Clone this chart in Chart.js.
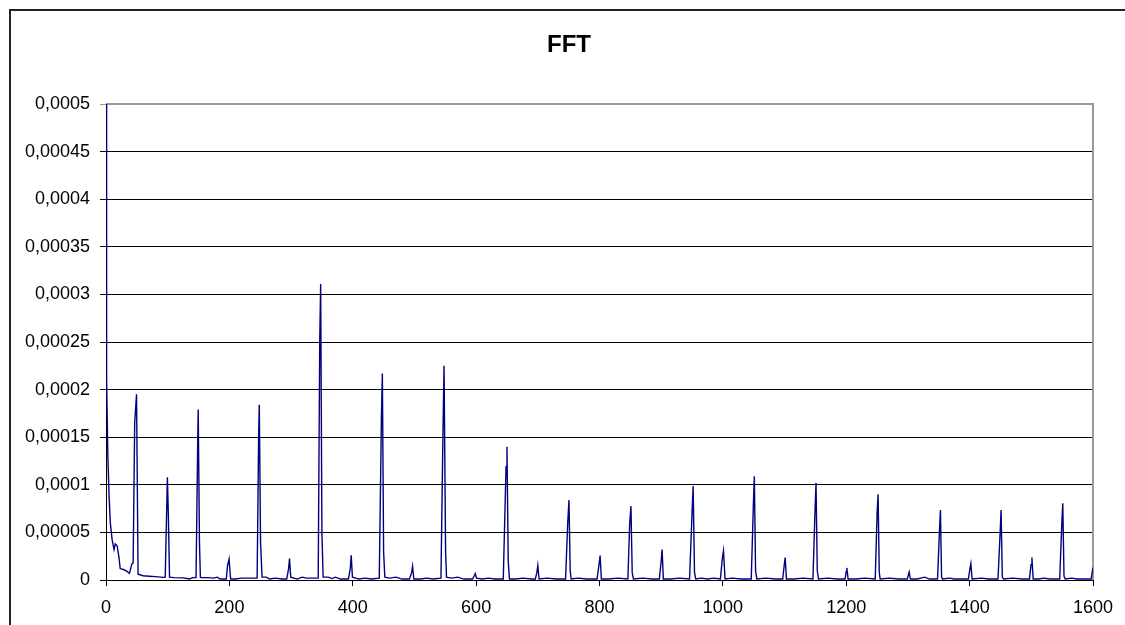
<!DOCTYPE html>
<html>
<head>
<meta charset="utf-8">
<title>FFT</title>
<script src="https://cdn.jsdelivr.net/npm/chart.js@4/dist/chart.umd.min.js"></script>
<style>
  body { margin: 0; background: #fff; }
  #wrap { width: 1125px; height: 625px; }
</style>
</head>
<body>
<div id="wrap"><canvas id="fft" width="1125" height="625"></canvas></div>
<script>
// frequency (Hz) and amplitude
freqs = [0, 1, 3, 5, 7, 10, 13, 15, 18, 21, 23, 28, 33, 38, 42, 44, 46.5, 49.5, 52,
  60, 70, 80, 93, 96, 99.5, 101, 103,
  110, 125, 136, 140, 146, 148.5, 149.5, 151.5, 153,
  165, 175, 180, 185, 195, 197, 199.5, 202,
  210, 220, 230, 245, 247.5, 248.5, 250.5, 253,
  260, 265, 275, 285, 293, 296, 297.5, 299.5,
  310, 318, 325, 340, 344, 346.5, 348, 350, 352,
  360, 366, 372, 380, 393, 396, 397.5, 399.5,
  410, 420, 430, 443, 446.5, 448, 450, 452,
  460, 470, 480, 492, 495.5, 497, 499,
  510, 520, 530, 543, 546.5, 548, 550.5, 552,
  560, 570, 580, 594, 597, 598.5, 600.5,
  610, 620, 630, 644, 648.5, 650, 652, 654,
  665, 675, 690, 696, 698.5, 700, 702,
  715, 730, 745, 748.5, 750.5, 752.5, 754,
  765, 780, 796, 799, 801, 803,
  815, 830, 846, 849, 851, 853, 855,
  870, 885, 897, 900, 901.5, 903.5,
  915, 930, 946, 950, 951.8, 954, 956,
  965, 975, 985, 996, 999, 1001, 1003.5,
  1015, 1030, 1046, 1049.5, 1051, 1053, 1055,
  1070, 1085, 1097, 1099.5, 1101, 1103,
  1115, 1130, 1146, 1149.5, 1151, 1153, 1155,
  1170, 1185, 1198, 1200, 1201, 1203,
  1215, 1230, 1247, 1250, 1251.6, 1253.5, 1255,
  1270, 1285, 1299, 1302, 1304,
  1315, 1327, 1335, 1348, 1351, 1352.7, 1354.5, 1356,
  1368, 1375, 1398, 1400.5, 1402, 1404,
  1420, 1430, 1446, 1449.5, 1451, 1453, 1455,
  1470, 1485, 1497, 1499.5, 1501, 1503,
  1512, 1520, 1530, 1546, 1549.5, 1551, 1553, 1555,
  1565, 1575, 1597, 1600];
amps = [0.00055, 0.00021, 0.00013, 0.000088, 0.00006, 0.000042, 0.000032, 0.000038, 0.000036, 0.000024, 0.000012, 0.000011, 0.0000095, 0.000007, 0.000017, 0.000018, 0.000165, 0.000195, 0.000006,
  0.0000045, 0.000004, 0.0000035, 0.0000028, 0.000003, 0.000108, 0.00007, 0.000003,
  0.0000025, 0.0000022, 0.000001, 0.0000025, 0.0000025, 0.000137, 0.000179, 0.00004, 0.0000025,
  0.0000025, 0.000002, 0.000003, 0.000001, 0.000001, 0.000015, 0.000022, 0.000001,
  0.000001, 0.000002, 0.000002, 0.000002, 0.000154, 0.000184, 0.00004, 0.000003,
  0.000003, 0.000001, 0.000002, 0.000001, 0.000001, 0.000012, 0.0000226, 0.000003,
  0.000001, 0.000003, 0.000002, 0.000002, 0.000002, 0.000253, 0.000311, 0.00005, 0.000003,
  0.000003, 0.0000015, 0.000003, 0.000001, 0.000001, 0.000012, 0.000026, 0.000003,
  0.000001, 0.000002, 0.000001, 0.000002, 0.000172, 0.000217, 0.00003, 0.000003,
  0.000002, 0.000003, 0.000001, 0.000001, 0.000008, 0.0000145, 0.000001,
  0.000001, 0.000002, 0.000001, 0.000002, 0.000165, 0.000225, 0.00003, 0.000003,
  0.000002, 0.000003, 0.000001, 0.000001, 0.0000045, 0.0000067, 0.000002,
  0.000001, 0.000002, 0.000001, 0.000001, 0.000119, 0.00014, 0.00002, 0.000001,
  0.000001, 0.000002, 0.000001, 0.000001, 0.000008, 0.0000152, 0.000001,
  0.000002, 0.000001, 0.000001, 0.00006, 0.000084, 0.00001, 0.000001,
  0.000002, 0.000001, 0.000001, 0.000015, 0.0000257, 0.000001,
  0.000001, 0.000002, 0.000001, 0.00006, 0.0000778, 0.000008, 0.000001,
  0.000002, 0.000001, 0.000001, 0.00002, 0.000032, 0.000001,
  0.000001, 0.000002, 0.000001, 0.00007, 0.0000988, 0.000008, 0.000001,
  0.000002, 0.000001, 0.000002, 0.000001, 0.000022, 0.0000306, 0.000001,
  0.000002, 0.000001, 0.000001, 0.00008, 0.000109, 0.00001, 0.000001,
  0.000002, 0.000001, 0.000001, 0.000016, 0.0000236, 0.000001,
  0.000001, 0.000002, 0.000001, 0.000075, 0.000102, 0.00001, 0.000001,
  0.000002, 0.000001, 0.000001, 0.000009, 0.0000127, 0.000001,
  0.000001, 0.000002, 0.000001, 0.00007, 0.00009, 0.000008, 0.000001,
  0.000002, 0.000001, 0.000001, 0.0000084, 0.000001,
  0.000001, 0.000003, 0.000001, 0.000001, 0.00005, 0.0000735, 0.000003, 0.000001,
  0.000002, 0.000001, 0.000001, 0.000012, 0.0000173, 0.000001,
  0.000002, 0.000001, 0.000001, 0.00005, 0.0000735, 0.000003, 0.000001,
  0.000002, 0.000001, 0.000001, 0.000016, 0.0000236, 0.000001,
  0.000001, 0.000002, 0.000001, 0.000001, 0.00006, 0.0000806, 0.000004, 0.000001,
  0.000002, 0.000001, 0.000001, 0.000013];

yTickLabels = ["0", "0,00005", "0,0001", "0,00015", "0,0002", "0,00025", "0,0003", "0,00035", "0,0004", "0,00045", "0,0005"];
xTickLabels = ["0", "200", "400", "600", "800", "1000", "1200", "1400", "1600"];
titulo = "FFT";

puntos = freqs.map(function (f, i) { return {x: f, y: amps[i]}; });

fuente = "'Liberation Sans', Arial, sans-serif";

// outer frame, title, and the grey top/right edge of the plot area
marco = {
  id: "marco",
  beforeDatasetsDraw: function (chart) {
    var c = chart.ctx, a = chart.chartArea;
    c.save();
    c.strokeStyle = "#9a9a9a";
    c.lineWidth = 2;
    c.beginPath();
    c.moveTo(a.left, a.top);
    c.lineTo(a.right, a.top);
    c.lineTo(a.right, a.bottom);
    c.stroke();
    c.restore();
  },
  afterDraw: function (chart) {
    var c = chart.ctx;
    c.save();
    c.strokeStyle = "#222";
    c.lineWidth = 2;
    c.strokeRect(10, 10, 1300, 800);
    c.fillStyle = "#000";
    c.font = "bold 24px " + fuente;
    c.textAlign = "center";
    c.textBaseline = "middle";
    c.fillText(titulo, 569, 45);
    c.restore();
  }
};

new Chart(document.getElementById("fft").getContext("2d"), {
  type: "line",
  data: {
    datasets: [{
      label: titulo,
      data: puntos,
      borderColor: "#000080",
      borderWidth: 1.4,
      pointRadius: 0,
      tension: 0,
      fill: false
    }]
  },
  options: {
    responsive: false,
    animation: false,
    layout: { padding: { left: 0, right: 32, top: 104, bottom: 0 } },
    plugins: {
      legend: { display: false },
      tooltip: { enabled: false },
      title: { display: false }
    },
    scales: {
      x: {
        type: "linear",
        min: 0,
        max: 1600,
        afterFit: function (s) { s.height = 45; },
        ticks: {
          stepSize: 200,
          color: "#000",
          padding: 11,
          maxRotation: 0,
          font: { family: fuente, size: 18 },
          callback: function (v, i) { return xTickLabels[i]; }
        },
        grid: { drawOnChartArea: false, drawTicks: true, tickLength: 6, color: "#000" },
        border: { display: true, color: "#000", width: 1 }
      },
      y: {
        min: 0,
        max: 0.0005,
        afterFit: function (s) { s.width = 106; },
        ticks: {
          stepSize: 0.00005,
          color: "#000",
          padding: 10,
          font: { family: fuente, size: 18 },
          callback: function (v, i) { return yTickLabels[i]; }
        },
        grid: {
          tickLength: 6,
          color: function (ctx) { return ctx.tick && ctx.tick.value >= 0.0005 ? "#9a9a9a" : "#000"; }
        },
        border: { display: true, color: "#000", width: 1 }
      }
    }
  },
  plugins: [marco]
});
</script>
</body>
</html>
